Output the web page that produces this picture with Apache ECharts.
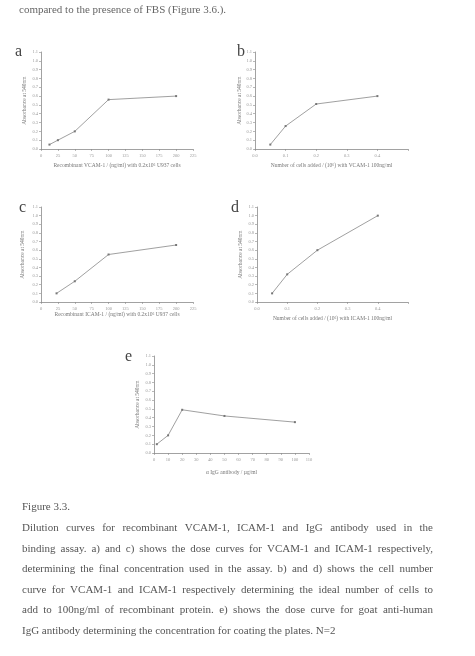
<!DOCTYPE html>
<html lang="en">
<head>
  <meta charset="UTF-8">
  <title>Figure 3.3</title>
  <script src="https://cdn.jsdelivr.net/npm/echarts@6/dist/echarts.min.js"></script>
  <style>
    html, body { margin: 0; padding: 0; background: #fff; }
    #main { width: 475px; height: 656px; }
  </style>
</head>
<body>
  <div id="main"></div>
  <script>
    // a) VCAM-1 dose curve
    var vcamConc = [12.5, 25, 50, 100, 200]
    var vcamAbs = [0.05, 0.10, 0.20, 0.56, 0.60]
    // b) cell number with VCAM-1
    var vcamCells = [0.05, 0.1, 0.2, 0.4]
    var vcamCellAbs = [0.05, 0.26, 0.51, 0.60]
    // c) ICAM-1 dose curve
    var icamConc = [23, 50, 100, 200]
    var icamAbs = [0.10, 0.24, 0.55, 0.66]
    // d) cell number with ICAM-1
    var icamCells = [0.05, 0.1, 0.2, 0.4]
    var icamCellAbs = [0.10, 0.32, 0.60, 1.00]
    // e) IgG antibody dose curve
    var iggConc = [2, 10, 20, 50, 100]
    var iggAbs = [0.10, 0.20, 0.49, 0.42, 0.35]

    var yTitle = 'Absorbance at 540nm'
    var xTitles = [
      'Recombinant VCAM-1 / (ng/ml) with 0.2x10⁶ U937 cells',
      'Number of cells added / (10⁶) with VCAM-1 100ng/ml',
      'Recombinant ICAM-1 / (ng/ml) with 0.2x10⁶ U937 cells',
      'Number of cells added / (10⁶) with ICAM-1 100ng/ml',
      'α IgG antibody / µg/ml'
    ]

    var pageTop = 'compared to the presence of FBS (Figure 3.6.).'
    var captionTitle = 'Figure 3.3.'
    var captionLines = [
      'Dilution curves for recombinant VCAM-1, ICAM-1 and IgG antibody used in the',
      'binding assay. a) and c) shows the dose curves for VCAM-1 and ICAM-1 respectively,',
      'determining the final concentration used in the assay. b) and d) shows the cell number',
      'curve for VCAM-1 and ICAM-1 respectively determining the ideal number of cells to',
      'add to 100ng/ml of recombinant protein. e) shows the dose curve for goat anti-human',
      'IgG antibody determining the concentration for coating the plates. N=2'
    ]

    var serif = '"Liberation Serif", "DejaVu Serif", serif'
    var axisGrey = '#8a8a8a'
    var textGrey = '#777'

    var zip = (xs, ys) => xs.map((x, i) => [x, ys[i]])

    var grids = [
      { left: 41, top: 52, width: 152, height: 97 },
      { left: 255, top: 52, width: 153, height: 97 },
      { left: 41, top: 207, width: 152, height: 95 },
      { left: 257, top: 207, width: 151, height: 95 },
      { left: 154, top: 356, width: 155, height: 97 }
    ]
    var xRanges = [[0, 225, 25], [0, 0.5, 0.1], [0, 225, 25], [0, 0.5, 0.1], [0, 110, 10]]
    var xGaps = [14, 14, 10, 14, 17]
    var yGaps = [13, 12, 15, 13, 13]

    var xAxis = xRanges.map((r, i) => ({
      type: 'value', gridIndex: i, min: r[0], max: r[1], interval: r[2],
      name: xTitles[i], nameLocation: 'middle', nameGap: xGaps[i],
      nameTextStyle: { fontFamily: serif, fontSize: 5.5, color: textGrey },
      axisLine: { lineStyle: { color: axisGrey, width: 0.8 } },
      axisTick: { length: 2, lineStyle: { color: axisGrey, width: 0.6 } },
      axisLabel: {
        fontFamily: serif, fontSize: 4.5, color: '#999', margin: 4,
        formatter: v => (r[2] < 1 ? (Math.abs(v - 0.5) < 1e-9 ? '' : v.toFixed(1)) : String(v))
      },
      splitLine: { show: false }
    }))

    var yAxis = grids.map((g, i) => ({
      type: 'value', gridIndex: i, min: 0, max: 1.1, interval: 0.1,
      name: yTitle, nameLocation: 'middle', nameGap: yGaps[i],
      nameTextStyle: { fontFamily: serif, fontSize: 5.5, color: textGrey },
      axisLine: { show: true, lineStyle: { color: axisGrey, width: 0.8 } },
      axisTick: { show: true, length: 2, lineStyle: { color: axisGrey, width: 0.6 } },
      axisLabel: { fontFamily: serif, fontSize: 4.5, color: '#999', margin: 3, formatter: v => v.toFixed(1) },
      splitLine: { show: false }
    }))

    var seriesData = [
      zip(vcamConc, vcamAbs),
      zip(vcamCells, vcamCellAbs),
      zip(icamConc, icamAbs),
      zip(icamCells, icamCellAbs),
      zip(iggConc, iggAbs)
    ]
    var series = seriesData.map((d, i) => ({
      type: 'line', xAxisIndex: i, yAxisIndex: i, data: d,
      symbol: 'rect', symbolSize: 2, animation: false,
      lineStyle: { color: '#888', width: 0.8 },
      itemStyle: { color: '#777' }
    }))

    // measure words for the justified caption
    var mctx = document.createElement('canvas').getContext('2d')
    var capFont = 11
    mctx.font = capFont + 'px "Liberation Serif"'
    var capLeft = 22, capRight = 433
    var graphic = []

    captionLines.forEach((line, li) => {
      var y = 530 + li * 20.5
      if (li === captionLines.length - 1) {
        graphic.push({ type: 'text', left: capLeft, top: y - 7, style: { text: line, font: capFont + 'px ' + serif, fill: '#555' } })
        return
      }
      var words = line.split(' ')
      var total = words.reduce((s, w) => s + mctx.measureText(w).width, 0)
      var gap = (capRight - capLeft - total) / (words.length - 1)
      var x = capLeft
      words.forEach(w => {
        graphic.push({ type: 'text', x: x, y: y - 7, style: { text: w, font: capFont + 'px ' + serif, fill: '#555' } })
        x += mctx.measureText(w).width + gap
      })
    })

    graphic.push({ type: 'text', x: 19, y: 5, style: { text: pageTop, font: '11px ' + serif, fill: '#666' } })
    graphic.push({ type: 'text', x: 22, y: 502, style: { text: captionTitle, font: '11px ' + serif, fill: '#555' } })

    var letters = [['a', 15, 44], ['b', 237, 44], ['c', 19, 200], ['d', 231, 200], ['e', 125, 349]]
    letters.forEach(l => {
      graphic.push({ type: 'text', x: l[1], y: l[2], style: { text: l[0], font: '16px ' + serif, fill: '#444' } })
    })

    var chart = echarts.init(document.getElementById('main'))
    chart.setOption({
      animation: false,
      backgroundColor: '#fff',
      grid: grids,
      xAxis: xAxis,
      yAxis: yAxis,
      series: series,
      graphic: graphic
    })
  </script>
</body>
</html>
